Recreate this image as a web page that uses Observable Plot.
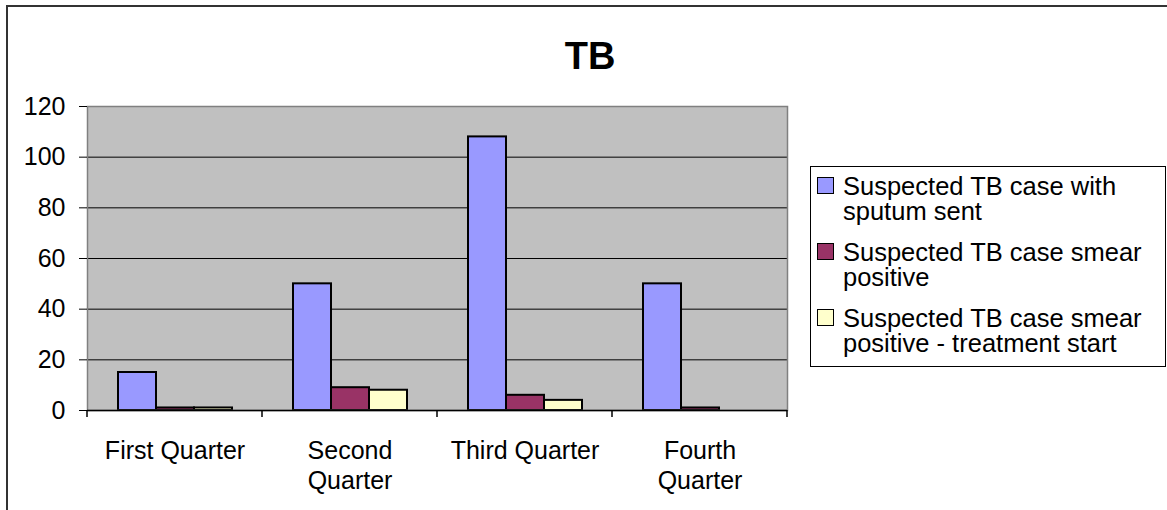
<!DOCTYPE html>
<html>
<head>
<meta charset="utf-8">
<script src="https://cdn.jsdelivr.net/npm/d3@7"></script>
<script src="https://cdn.jsdelivr.net/npm/@observablehq/plot@0.6"></script>
<style>
  html, body { margin: 0; padding: 0; background: #fff; }
  #wrap { position: relative; width: 1167px; height: 510px; overflow: hidden; font-family: "Liberation Sans", Arial, sans-serif; color: #000; }
  #outer { position: absolute; left: 6px; top: 5px; width: 1200px; height: 600px; border-left: 2px solid #333; border-top: 2px solid #333; box-sizing: border-box; }
  #title { position: absolute; left: 490px; top: 37px; width: 200px; text-align: center; font-size: 38px; line-height: 38px; font-weight: bold; }
  #chart { position: absolute; left: 0; top: 0; }
  #legend { position: absolute; left: 810px; top: 166px; width: 356px; height: 201px; box-sizing: border-box; border: 1px solid #000; background: #fff; padding-top: 7px; font-size: 25.5px; }
  .entry { position: relative; padding-left: 32px; line-height: 25px; margin-bottom: 16px; white-space: pre; }
  .sw { position: absolute; left: 6px; top: 3px; width: 17px; height: 17px; box-sizing: border-box; border: 1.5px solid #000; }
</style>
</head>
<body>
<div id="wrap">
  <div id="outer"></div>
  <div id="chart"></div>
  <div id="title"></div>
  <div id="legend"></div>
</div>
<script>
// ---- data ----
const title = "TB";
const quarters = ["First Quarter", "Second Quarter", "Third Quarter", "Fourth Quarter"];
const quarterLabels = ["First Quarter", "Second\nQuarter", "Third Quarter", "Fourth\nQuarter"];
const seriesNames = [
  "Suspected TB case with sputum sent",
  "Suspected TB case smear positive",
  "Suspected TB case smear positive - treatment start"
];
const legendLabels = [
  "Suspected TB case with\nsputum sent",
  "Suspected TB case smear\npositive",
  "Suspected TB case smear\npositive - treatment start"
];
const sputumSent = [15, 50, 108, 50];
const smearPositive = [1, 9, 6, 1];
const treatmentStart = [1, 8, 4, 0];
const seriesColors = ["#9999FF", "#993366", "#FFFFCC"];
const yTicks = [0, 20, 40, 60, 80, 100, 120];

// ---- table built from arrays ----
const seriesValues = [sputumSent, smearPositive, treatmentStart];
const table = quarters.flatMap((q, i) =>
  seriesNames.map((s, j) => ({quarter: q, series: s, value: seriesValues[j][i]}))
);

const plot = Plot.plot({
  width: 1167,
  height: 510,
  marginLeft: 85,
  marginRight: 379,
  marginTop: 106,
  marginBottom: 100,
  style: {fontFamily: "'Liberation Sans', Arial, sans-serif", fontSize: "25px", color: "#000", background: "transparent", overflow: "visible"},
  fx: {domain: quarters, padding: 0, label: null, axis: null},
  x: {domain: seriesNames, paddingInner: 0, paddingOuter: 0.75, axis: null},
  y: {domain: [0, 120], label: null, axis: null},
  color: {domain: seriesNames, range: seriesColors},
  marks: [
    Plot.frame({fill: "#C0C0C0", facet: "super"}),
    Plot.gridY(yTicks.filter(t => t > 0 && t < 120), {stroke: "#000", strokeOpacity: 1, strokeWidth: 1}),
    Plot.barY(table, {
      fx: "quarter", x: "series", y: "value", fill: "series",
      stroke: "#000", strokeWidth: 2, filter: d => d.value > 0
    }),
    Plot.frame({stroke: "#808080", strokeWidth: 1.5, facet: "super"}),
    Plot.ruleY([0], {stroke: "#000", strokeWidth: 1.5}),
    Plot.axisY({ticks: yTicks, tickSize: 8, tickPadding: 14, label: null, stroke: "#000", tickFormat: d => String(d)}),
    Plot.axisFx({
      anchor: "bottom",
      tickSize: 0, tickPadding: 27, label: null, lineHeight: 1.2,
      tickFormat: q => quarterLabels[quarters.indexOf(q)]
    })
  ]
});

// category boundary tick marks drawn from Plot's own scales
const fxS = plot.scale("fx");
const yS = plot.scale("y");
const edges = quarters.map(q => fxS.apply(q)).concat([fxS.apply(quarters[quarters.length - 1]) + fxS.bandwidth]);
const y0 = yS.apply(0);
d3.select(plot).append("g")
  .attr("stroke", "#000").attr("stroke-width", 1.5)
  .selectAll("line").data(edges).join("line")
  .attr("x1", d => d).attr("x2", d => d)
  .attr("y1", y0).attr("y2", y0 + 7);

document.getElementById("chart").appendChild(plot);
document.getElementById("title").textContent = title;

// legend
const legend = d3.select("#legend");
seriesNames.forEach((s, i) => {
  const e = legend.append("div").attr("class", "entry");
  e.append("span").attr("class", "sw").style("background", seriesColors[i]);
  e.append("span").text(legendLabels[i]);
});
</script>
</body>
</html>
